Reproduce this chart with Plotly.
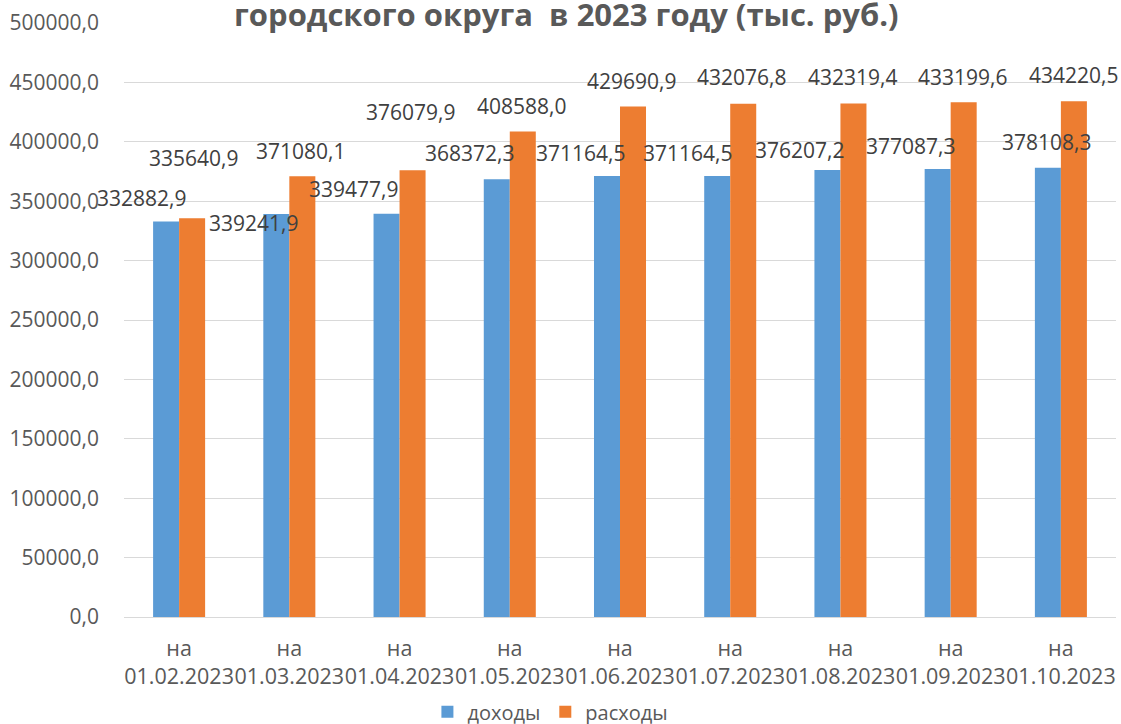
import plotly.graph_objects as go

categories = ["на<br>01.02.2023", "на<br>01.03.2023", "на<br>01.04.2023", "на<br>01.05.2023",
              "на<br>01.06.2023", "на<br>01.07.2023", "на<br>01.08.2023", "на<br>01.09.2023",
              "на<br>01.10.2023"]
dohody = [332882.9, 339241.9, 339477.9, 368372.3, 371164.5, 371164.5, 376207.2, 377087.3, 378108.3]
rashody = [335640.9, 371080.1, 376079.9, 408588.0, 429690.9, 432076.8, 432319.4, 433199.6, 434220.5]
series_names = ["доходы", "расходы"]
title_text = "городского округа  в 2023 году (тыс. руб.)"

# label placement offsets (pixels) relative to group centre / bar top
dx_blue = [-37, -35, -46, -40, -39, -42, -40, -40, -14]
dy_blue = [24, -9, 25, 26, 23, 23, 20, 23, 26]
dx_orange = [15, 12, 11, 12, 12, 12, 13, 12, 13]
dy_orange = [60, 25, 58, 26, 26, 27, 26, 25, 26]

BLUE = "#5B9BD5"
ORANGE = "#ED7D31"
FONT = "Open Sans"

fig = go.Figure()
fig.add_trace(go.Bar(x=categories, y=dohody, name=series_names[0], marker_color=BLUE,
                     marker_line_width=0))
fig.add_trace(go.Bar(x=categories, y=rashody, name=series_names[1], marker_color=ORANGE,
                     marker_line_width=0))

def fmt(v):
    return f"{v:.1f}".replace(".", ",")

annotations = []
for i, c in enumerate(categories):
    annotations.append(dict(x=c, y=dohody[i], xref="x", yref="y", text=fmt(dohody[i]),
                            showarrow=False, xanchor="center", yanchor="middle",
                            xshift=dx_blue[i], yshift=dy_blue[i],
                            font=dict(family=FONT, size=21, color="#404040")))
    annotations.append(dict(x=c, y=rashody[i], xref="x", yref="y", text=fmt(rashody[i]),
                            showarrow=False, xanchor="center", yanchor="middle",
                            xshift=dx_orange[i], yshift=dy_orange[i],
                            font=dict(family=FONT, size=21, color="#404040")))
annotations.append(dict(x=0.5, y=1, xref="paper", yref="paper", text=title_text,
                        showarrow=False, xanchor="center", yanchor="middle", yshift=9,
                        xshift=-54,
                        font=dict(family=FONT, size=31, color="#595959", weight="bold")))

fig.update_layout(
    width=1121, height=724,
    autosize=False,
    margin=dict(l=124, r=5, t=23, b=107, pad=0, autoexpand=False),
    paper_bgcolor="white", plot_bgcolor="white",
    barmode="group", bargap=0.528, bargroupgap=0,
    separators=", ",
    font=dict(family=FONT, size=21, color="#595959"),
    annotations=annotations,
    showlegend=True,
    legend=dict(orientation="h", xref="container", yref="container",
                x=0.491, y=0.017, xanchor="center", yanchor="middle",
                font=dict(family=FONT, size=20, color="#595959"),
                itemwidth=30, tracegroupgap=0),
)
fig.update_yaxes(range=[0, 500000], dtick=50000, tickformat=".1f",
                 showgrid=True, gridcolor="#D9D9D9", gridwidth=1,
                 zeroline=True, zerolinecolor="#D9D9D9", zerolinewidth=1,
                 showline=False, ticks="", ticklabelstandoff=24, automargin=False,
                 tickfont=dict(family=FONT, size=21, color="#595959"))
fig.update_xaxes(range=[-0.5, 8.5], tickangle=0, showline=True, linecolor="#D9D9D9", ticks="",
                 ticklabelstandoff=12, automargin=False,
                 tickfont=dict(family=FONT, size=21.5, color="#595959"))

fig.write_html("out.html", config={"responsive": False, "displayModeBar": False},
               post_script="document.body.style.margin='0';document.body.style.overflow='hidden';")
